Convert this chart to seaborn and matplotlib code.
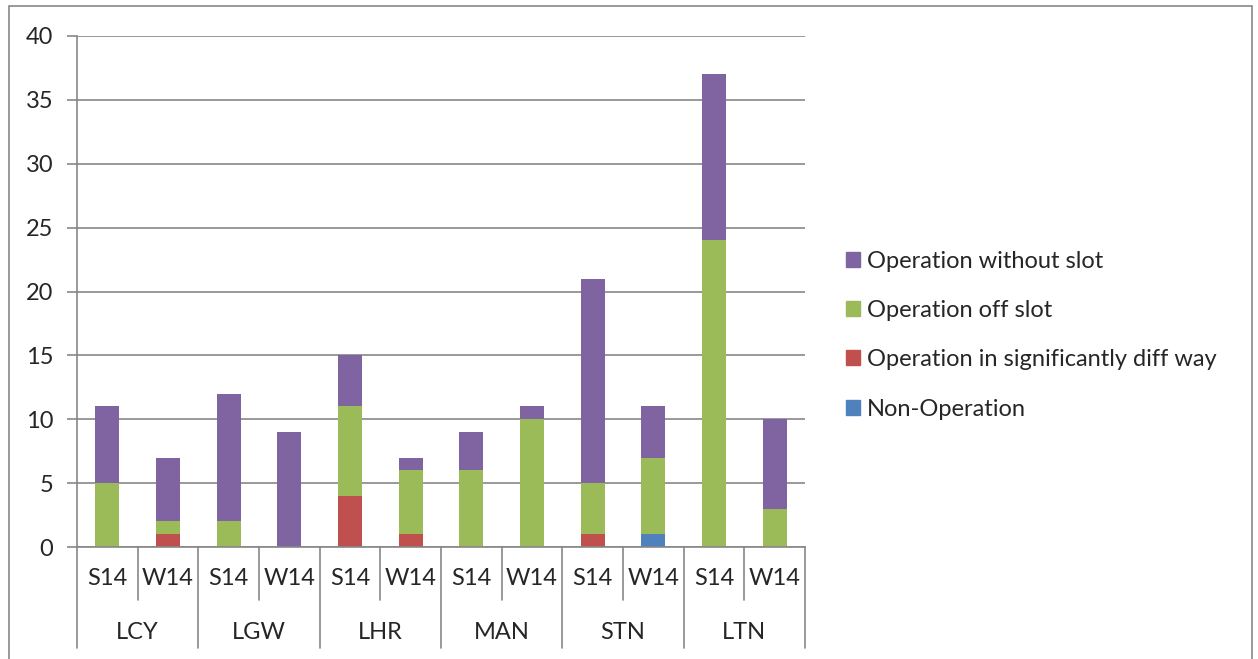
import matplotlib
matplotlib.use("Agg")
import matplotlib.pyplot as plt
import matplotlib.transforms as mtransforms
from matplotlib.patches import Rectangle, Patch
import seaborn as sns
import pandas as pd
import numpy as np

airports = ["LCY", "LGW", "LHR", "MAN", "STN", "LTN"]
seasons = ["S14", "W14"]
non_operation = [0, 0, 0, 0, 0, 0, 0, 0, 0, 1, 0, 0]
sig_diff = [0, 1, 0, 0, 4, 1, 0, 0, 1, 0, 0, 0]
off_slot = [5, 1, 2, 0, 7, 5, 6, 10, 4, 6, 24, 3]
without_slot = [6, 5, 10, 9, 4, 1, 3, 1, 16, 4, 13, 7]

series_names = ["Non-Operation", "Operation in significantly diff way",
                "Operation off slot", "Operation without slot"]
series_vals = [non_operation, sig_diff, off_slot, without_slot]
colors = ["#4F81BD", "#C0504D", "#9BBB59", "#8064A2"]

sns.set_style("white")
plt.rcParams['font.family'] = ['Lato', 'DejaVu Sans']
FS = 17
GRAY = "#878787"

fig = plt.figure(figsize=(12.58, 6.59), dpi=100)
ax = fig.add_axes([77/1258, 1-547/659, (805-77)/1258, (547-36)/659])

cats = [f"{a} {s}" for a in airports for s in seasons]
bottom = np.zeros(len(cats))
for name, vals, col in zip(series_names, series_vals, colors):
    df = pd.DataFrame({"cat": cats, "val": vals})
    sns.barplot(data=df, x="cat", y="val", order=cats, color=col, bottom=bottom,
                width=0.4, ax=ax, saturation=1, linewidth=0)
    bottom = bottom + np.array(vals)

leg = ax.get_legend()
if leg is not None:
    leg.remove()

ax.set_xlim(-0.5, len(cats) - 0.5)
ax.set_ylim(0, 40)
ax.set_yticks(range(0, 41, 5))
ax.yaxis.grid(True, color=GRAY, linewidth=1.2)
ax.set_axisbelow(True)
ax.tick_params(axis="y", labelsize=FS, length=7, color=GRAY, width=1.2, left=True, pad=10)
ax.set_xticks([])
ax.set_xlabel("")
ax.set_ylabel("")
for s in ["top", "right"]:
    ax.spines[s].set_visible(False)
for s in ["left", "bottom"]:
    ax.spines[s].set_color(GRAY)
    ax.spines[s].set_linewidth(1.2)

# two-level category axis
trans = mtransforms.blended_transform_factory(ax.transData, ax.transAxes)
for i, c in enumerate(cats):
    a, s = c.split()
    ax.text(i, -0.061, s, transform=trans, ha="center", va="center", fontsize=FS, clip_on=False)
for g, a in enumerate(airports):
    ax.text(2 * g + 0.5, -0.168, a, transform=trans, ha="center", va="center", fontsize=FS, clip_on=False)
for b in range(len(cats) + 1):
    x = b - 0.5
    y2 = -0.198 if b % 2 == 0 else -0.104
    ax.plot([x, x], [0, y2], transform=trans, color=GRAY, linewidth=1.2, clip_on=False)

handles = [Patch(color=c, label=n) for n, c in zip(series_names, colors)][::-1]
fig.legend(handles=handles, loc="center left", bbox_to_anchor=(846/1258, 1-335/659),
           frameon=False, fontsize=FS, handlelength=0.6, handleheight=0.6,
           handletextpad=0.3, labelspacing=1.2, borderpad=0, borderaxespad=0)

# outer frame
fig.patches.append(Rectangle((9/1258, -0.05), (1252-9)/1258, 1.05 - 6/659,
                             transform=fig.transFigure, fill=False, edgecolor=GRAY, linewidth=1.2))

fig.savefig("out.png", dpi=100)
